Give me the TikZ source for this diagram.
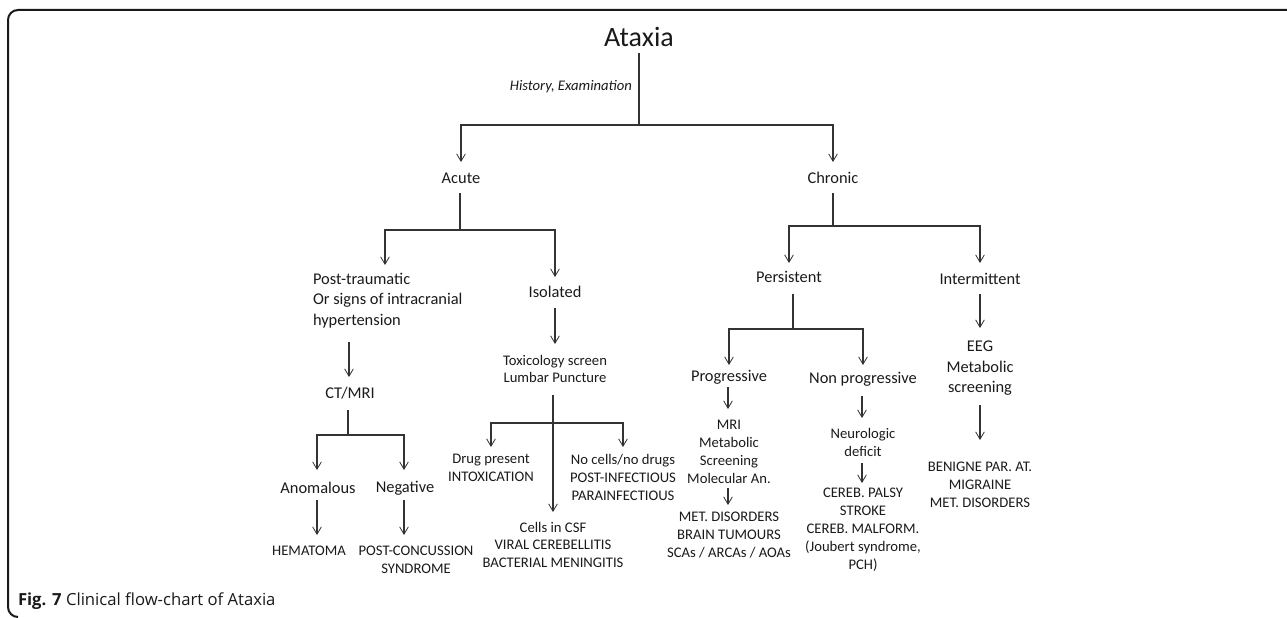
\documentclass[tikz,border=0pt]{standalone}
\usepackage{fontspec}
\setmainfont{Carlito}
\newfontfamily\capfont{Open Sans}
\usetikzlibrary{arrows.meta}
\definecolor{ink}{HTML}{1A1A1A}
\definecolor{wire}{HTML}{333333}
\begin{document}
\begin{tikzpicture}[x=0.75pt,y=-0.75pt,
  every node/.style={inner sep=0pt, outer sep=0pt, text=ink},
  big/.style={font=\fontsize{12.3}{15.4}\selectfont, align=center},
  sml/.style={font=\fontsize{11}{13.3}\selectfont, align=center},
  conn/.style={draw=wire, line width=0.8pt},
  arr/.style={conn, -{Straight Barb[length=5.5pt,width=6.5pt,line width=0.6pt]}},
  frame/.style={draw=ink, line width=1.5pt},
]
\useasboundingbox (0,0) rectangle (1287,617);
\draw[frame] (18,617) arc (90:180:10) -- (8,20) arc (180:270:10) -- (1287,10);

% ---- top ----
\node[font=\fontsize{21}{25}\selectfont] (ataxia) at (639,37) {Ataxia};
\node[font=\fontsize{11}{13}\selectfont\itshape, anchor=east] (hist) at (632,87) {History, Examination};
\coordinate (s0) at (639,53);
\coordinate (j0) at (639,125);
\coordinate (tacute) at (461,162);
\coordinate (tchronic) at (833,162);
\draw[conn] (s0) -- (j0);
\draw[arr] (j0) -| (tacute);
\draw[arr] (j0) -| (tchronic);
\node[big] (acute) at (461,178) {Acute};
\node[big] (chronic) at (833,178) {Chronic};

% ---- acute branch ----
\coordinate (s1) at (460,193);
\coordinate (j1) at (460,230);
\coordinate (tpost) at (385,265);
\coordinate (tiso) at (555,277);
\draw[conn] (s1) -- (j1);
\draw[arr] (j1) -| (tpost);
\draw[arr] (j1) -| (tiso);
\node[big, align=left, anchor=west, font=\fontsize{12.3}{15.4}\selectfont] (post) at (313,300.5) {Post-traumatic\\Or signs of intracranial\\hypertension};
\node[big] (iso) at (555,292) {Isolated};

\coordinate (s2) at (349,342);
\coordinate (tct) at (349,377);
\draw[arr] (s2) -- (tct);
\node[big] (ct) at (350,393) {CT/MRI};

\coordinate (s3) at (555,308);
\coordinate (ttox) at (555,344);
\draw[arr] (s3) -- (ttox);
\node[sml, font=\fontsize{11}{12.75}\selectfont] (tox) at (555,368.5) {Toxicology screen\\Lumbar Puncture};

% CT/MRI children
\coordinate (s4) at (348,410);
\coordinate (j4) at (348,435);
\coordinate (tano) at (317,470);
\coordinate (tneg) at (404,470);
\draw[conn] (s4) -- (j4);
\draw[arr] (j4) -| (tano);
\draw[arr] (j4) -| (tneg);
\node[big] (ano) at (318,488) {Anomalous};
\node[big] (neg) at (405,488) {Negative};
\coordinate (s5) at (317,500);
\coordinate (the) at (317,535);
\coordinate (s6) at (404,500);
\coordinate (tpc) at (404,535);
\draw[arr] (s5) -- (the);
\draw[arr] (s6) -- (tpc);
\node[sml] (hema) at (309,551) {HEMATOMA};
\node[sml, font=\fontsize{11}{13.5}\selectfont] (pcs) at (416,560) {POST-CONCUSSION\\SYNDROME};

% Toxicology children
\coordinate (s7) at (553,395);
\coordinate (j7) at (553,423);
\coordinate (tdrug) at (491,447);
\coordinate (tnoc) at (623,447);
\coordinate (tcells) at (553,512);
\draw[arr] (s7) -- (tcells);
\draw[arr] (j7) -| (tdrug);
\draw[arr] (j7) -| (tnoc);
\node[sml, font=\fontsize{11}{13.5}\selectfont] (drug) at (491,468) {Drug present\\INTOXICATION};
\node[sml, font=\fontsize{11}{13.5}\selectfont] (noc) at (623,477) {No cells/no drugs\\POST-INFECTIOUS\\PARAINFECTIOUS};
\node[sml, font=\fontsize{11}{13.1}\selectfont] (cells) at (553,544.5) {Cells in CSF\\VIRAL CEREBELLITIS\\BACTERIAL MENINGITIS};

% ---- chronic branch ----
\coordinate (s8) at (833,193);
\coordinate (j8) at (833,226);
\coordinate (tpers) at (789,263);
\coordinate (tint) at (980,263);
\draw[conn] (s8) -- (j8);
\draw[arr] (j8) -| (tpers);
\draw[arr] (j8) -| (tint);
\node[big] (pers) at (789,277) {Persistent};
\node[big] (inter) at (980,279) {Intermittent};

\coordinate (s9) at (793,294);
\coordinate (j9) at (793,329);
\coordinate (tprog) at (729,365);
\coordinate (tnon) at (863,365);
\draw[conn] (s9) -- (j9);
\draw[arr] (j9) -| (tprog);
\draw[arr] (j9) -| (tnon);
\node[big] (prog) at (729,377) {Progressive};
\node[big] (non) at (863,379) {Non progressive};

\coordinate (s10) at (728,387);
\coordinate (tmri) at (728,409);
\draw[arr] (s10) -- (tmri);
\node[sml, font=\fontsize{11}{13.5}\selectfont] (mri) at (729,452) {MRI\\Metabolic\\Screening\\Molecular An.};
\coordinate (s11) at (728,488);
\coordinate (tmet) at (728,505);
\draw[arr] (s11) -- (tmet);
\node[sml, font=\fontsize{11}{13.5}\selectfont] (metd) at (729,535) {MET. DISORDERS\\BRAIN TUMOURS\\SCAs / ARCAs / AOAs};

\coordinate (s12) at (862,396);
\coordinate (tneu) at (862,418);
\draw[arr] (s12) -- (tneu);
\node[sml, font=\fontsize{11}{13.5}\selectfont] (neu) at (863,442) {Neurologic\\deficit};
\coordinate (s13) at (862,463);
\coordinate (tcer) at (862,483);
\draw[arr] (s13) -- (tcer);
\node[sml, font=\fontsize{11}{13.5}\selectfont] (cer) at (863,530) {CEREB. PALSY\\STROKE\\CEREB. MALFORM.\\(Joubert syndrome,\\PCH)};

\coordinate (s14) at (980,294);
\coordinate (teeg) at (980,328);
\draw[arr] (s14) -- (teeg);
\node[big, font=\fontsize{12.3}{15.4}\selectfont] (eeg) at (980,368.5) {EEG\\Metabolic\\screening};
\coordinate (s15) at (980,405);
\coordinate (tben) at (980,440);
\draw[arr] (s15) -- (tben);
\node[sml, font=\fontsize{11}{13.5}\selectfont] (ben) at (980,485) {BENIGNE PAR. AT.\\MIGRAINE\\MET. DISORDERS};

% ---- caption ----
\node[anchor=base west, font=\capfont\fontsize{12.5}{15}\selectfont] (cap) at (18,605) {\textbf{Fig. 7} Clinical flow-chart of Ataxia};
\end{tikzpicture}
\end{document}
